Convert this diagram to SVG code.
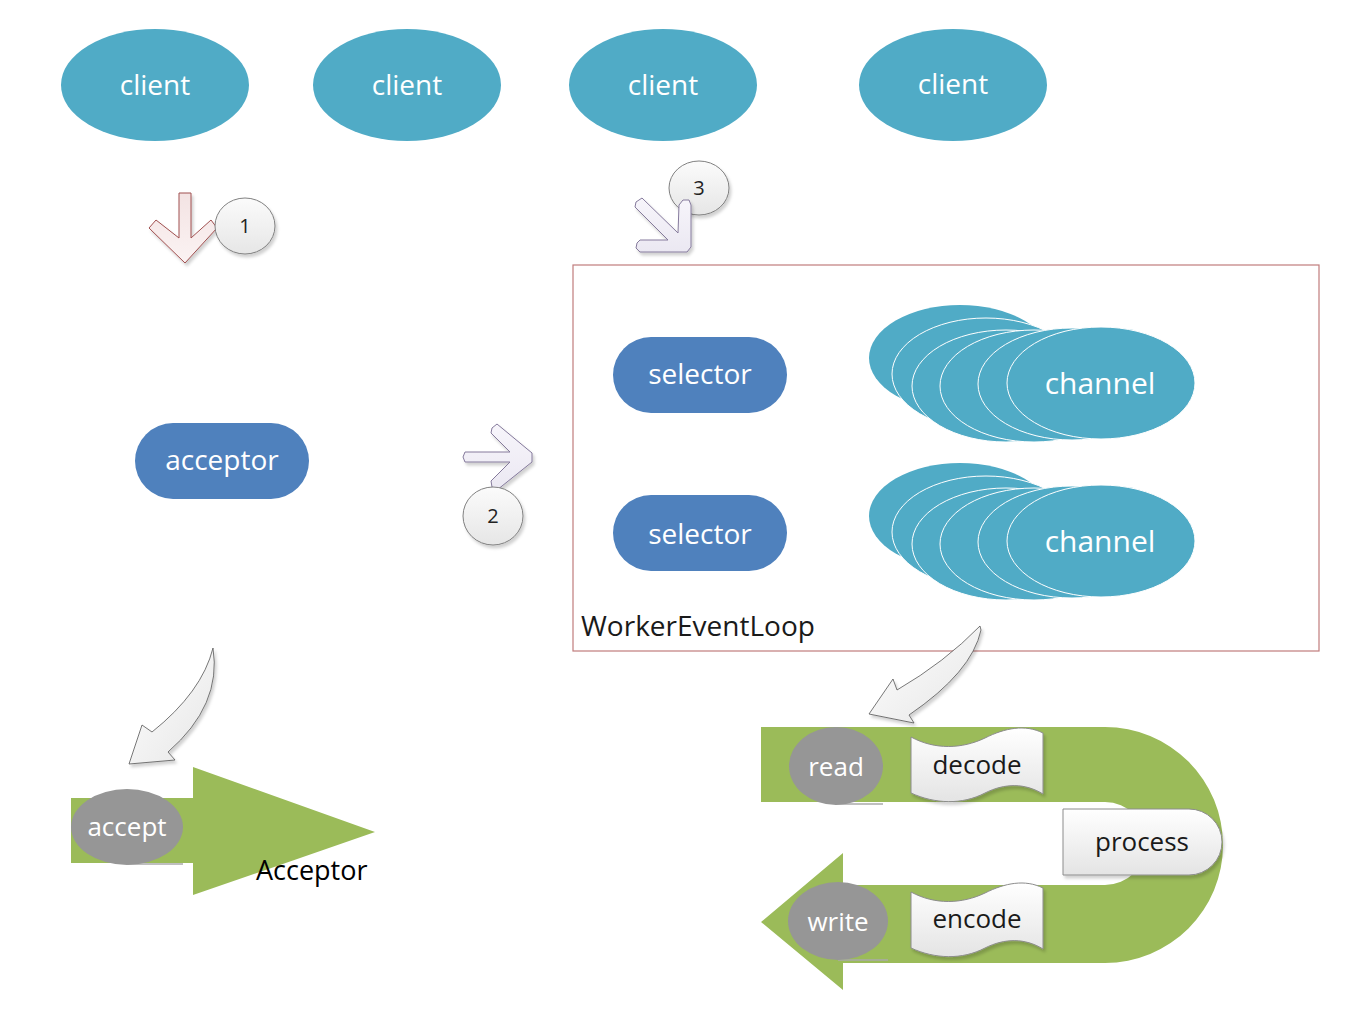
<svg xmlns="http://www.w3.org/2000/svg" width="1350" height="1024" viewBox="0 0 1350 1024">
<style>
.cl{fill:#50abc6}
.ch{fill:#50abc6;stroke:#ffffff;stroke-width:1}
.pill{fill:#4f81bd}
.wt{font-family:"Open Sans","DejaVu Sans",sans-serif;fill:#ffffff;text-anchor:middle}
.bt{font-family:"Open Sans","DejaVu Sans",sans-serif;fill:#1a1a1a;text-anchor:middle}
.num{font-family:"Open Sans","DejaVu Sans",sans-serif;fill:#222;font-size:20px;text-anchor:middle}
.circ{fill:url(#gGray);stroke:#808080;stroke-width:1}
.green{fill:#9bbb59}
.gray{fill:#969696}
.doc{fill:url(#gDoc);stroke:#8c8c8c;stroke-width:1}
.curv{fill:url(#gCurve);stroke:#555;stroke-width:0.8}
</style>
<defs>
<linearGradient id="gGray" x1="0" y1="0" x2="0" y2="1"><stop offset="0" stop-color="#fbfbfb"/><stop offset="1" stop-color="#e6e6e6"/></linearGradient>
<linearGradient id="gDoc" x1="0" y1="0" x2="0" y2="1"><stop offset="0" stop-color="#ffffff"/><stop offset="1" stop-color="#e4e4e4"/></linearGradient>
<linearGradient id="gCurve" x1="0" y1="0" x2="1" y2="1"><stop offset="0" stop-color="#ffffff"/><stop offset="1" stop-color="#e6e6e6"/></linearGradient>
<linearGradient id="gRed" x1="0" y1="0" x2="0" y2="1"><stop offset="0" stop-color="#f3e3e3"/><stop offset="1" stop-color="#fbf3f3"/></linearGradient>
<linearGradient id="gLav" x1="0" y1="0" x2="0" y2="1"><stop offset="0" stop-color="#f7f5fb"/><stop offset="1" stop-color="#ebe8f2"/></linearGradient>
<filter id="sh" x="-20%" y="-20%" width="150%" height="150%"><feDropShadow dx="2" dy="3" stdDeviation="1.5" flood-color="#000" flood-opacity="0.18"/></filter>
</defs>

<g id="client1"><ellipse class="cl" cx="155" cy="85" rx="94" ry="56"/><text class="wt" x="155" y="95" font-size="28">client</text></g>
<g id="client2"><ellipse class="cl" cx="407" cy="85" rx="94" ry="56"/><text class="wt" x="407" y="95" font-size="28">client</text></g>
<g id="client3"><ellipse class="cl" cx="663" cy="85" rx="94" ry="56"/><text class="wt" x="663" y="95" font-size="28">client</text></g>
<g id="client4"><ellipse class="cl" cx="953" cy="85" rx="94" ry="56"/><text class="wt" x="953" y="94" font-size="28">client</text></g>

<g id="acceptor"><rect class="pill" x="135" y="423" width="174" height="76" rx="38"/><text class="wt" x="222" y="470" font-size="28">acceptor</text></g>

<g id="workerEventLoop">
<rect x="573" y="265" width="746" height="386" fill="none" stroke="#c07c7c" stroke-width="1.2"/>
<text x="581" y="636" font-family="'Open Sans','DejaVu Sans',sans-serif" font-size="28" fill="#1a1a1a">WorkerEventLoop</text>
</g>

<g id="selector1"><rect class="pill" x="613" y="337" width="174" height="76" rx="38"/><text class="wt" x="700" y="384" font-size="28">selector</text></g>
<g id="selector2"><rect class="pill" x="613" y="495" width="174" height="76" rx="38"/><text class="wt" x="700" y="544" font-size="28">selector</text></g>

<g id="channels1">
<ellipse class="cl" cx="960" cy="358" rx="91" ry="53"/>
<ellipse class="ch" cx="986" cy="374" rx="94" ry="56"/>
<ellipse class="ch" cx="1006" cy="386" rx="94" ry="56"/>
<ellipse class="ch" cx="1034" cy="386" rx="94" ry="56"/>
<ellipse class="ch" cx="1072" cy="384" rx="94" ry="56"/>
<ellipse class="ch" cx="1101" cy="383" rx="94" ry="56"/>
<text class="wt" x="1100" y="394" font-size="30">channel</text>
</g>
<g id="channels2">
<ellipse class="cl" cx="960" cy="516" rx="91" ry="53"/>
<ellipse class="ch" cx="986" cy="532" rx="94" ry="56"/>
<ellipse class="ch" cx="1006" cy="544" rx="94" ry="56"/>
<ellipse class="ch" cx="1034" cy="544" rx="94" ry="56"/>
<ellipse class="ch" cx="1072" cy="542" rx="94" ry="56"/>
<ellipse class="ch" cx="1101" cy="541" rx="94" ry="56"/>
<text class="wt" x="1100" y="552" font-size="30">channel</text>
</g>

<g id="acceptorFlow">
<polygon class="green" points="71,798 193,798 193,767 375,832 193,895 193,863 71,863"/>
<line x1="128" y1="864" x2="183" y2="864" stroke="#aaaaaa" stroke-width="1.5"/>
<ellipse class="gray" cx="127" cy="827" rx="56" ry="38"/>
<text class="wt" x="127" y="836" font-size="26">accept</text>
<text x="256" y="880" font-family="'Open Sans','DejaVu Sans',sans-serif" font-size="27" fill="#000">Acceptor</text>
</g>

<g id="pipeline">
<path class="green" d="M761,727 L1105,727 A118,118 0 0 1 1105,963 L843,963 L843,990 L761,922 L843,853 L843,885 L1105,885 A41.5,41.5 0 0 0 1105,802 L761,802 Z"/>
<line x1="835" y1="804" x2="883" y2="804" stroke="#aaaaaa" stroke-width="1.5"/>
<line x1="838" y1="960" x2="888" y2="960" stroke="#aaaaaa" stroke-width="1.5"/>
<ellipse class="gray" cx="836" cy="766" rx="47" ry="39"/>
<text class="wt" x="836" y="776" font-size="26">read</text>
<ellipse class="gray" cx="838" cy="921" rx="50" ry="39"/>
<text class="wt" x="838" y="931" font-size="26">write</text>
<path class="doc" filter="url(#sh)" d="M911,737 C935,750 962,749 985,738 C1005,728 1025,724 1043,733 L1043,794 C1025,783 1005,783 985,793 C962,805 935,804 911,793 Z"/>
<text class="bt" x="977" y="774" font-size="26">decode</text>
<path class="doc" filter="url(#sh)" d="M911,892 C935,905 962,904 985,893 C1005,883 1025,879 1043,888 L1043,949 C1025,938 1005,938 985,948 C962,960 935,959 911,948 Z"/>
<text class="bt" x="977" y="928" font-size="26">encode</text>
<path class="doc" filter="url(#sh)" d="M1063,809 L1189,809 A33,33 0 0 1 1189,875 L1063,875 Z"/>
<text class="bt" x="1142" y="851" font-size="26">process</text>
</g>

<g id="connectors">
<g id="step1">
<polygon filter="url(#sh)" fill="url(#gRed)" stroke="#a05050" stroke-width="1" points="179,193 191,193 191,238 211,220 217,228 185,263 149,228 156,220 179,238"/>
<ellipse class="circ" filter="url(#sh)" cx="245" cy="226" rx="30" ry="28"/>
<text class="num" x="245" y="233">1</text>
</g>
<g id="step3">
<ellipse class="circ" filter="url(#sh)" cx="699" cy="188" rx="30" ry="27"/>
<text class="num" x="699" y="195">3</text>
<polygon filter="url(#sh)" fill="url(#gLav)" stroke="#857a9c" stroke-width="1" points="642,198 678,233 679,205 683,200 689,200 691,205 691,247 687,252 640,252 636,248 637,243 640,240 668,240 635,207 636,202"/>
</g>
<g id="step2">
<polygon filter="url(#sh)" fill="url(#gLav)" stroke="#857a9c" stroke-width="1" points="465,452 510,452 491,433 492,428 497,424 532,453 532,462 497,490 492,487 491,481 510,462 465,462 463,457"/>
<ellipse class="circ" filter="url(#sh)" cx="493" cy="516" rx="30" ry="29"/>
<text class="num" x="493" y="523">2</text>
</g>
<path class="curv" filter="url(#sh)" d="M213,648 Q202,692 152,732 L142,725 L129,764 L175,760 L168,752 Q222,705 213,648 Z"/>
<path class="curv" filter="url(#sh)" d="M980,626 Q945,662 897,690 L893,679 L869,714 L914,723 L909,715 Q972,672 981,630 Z"/>
</g>
</svg>
